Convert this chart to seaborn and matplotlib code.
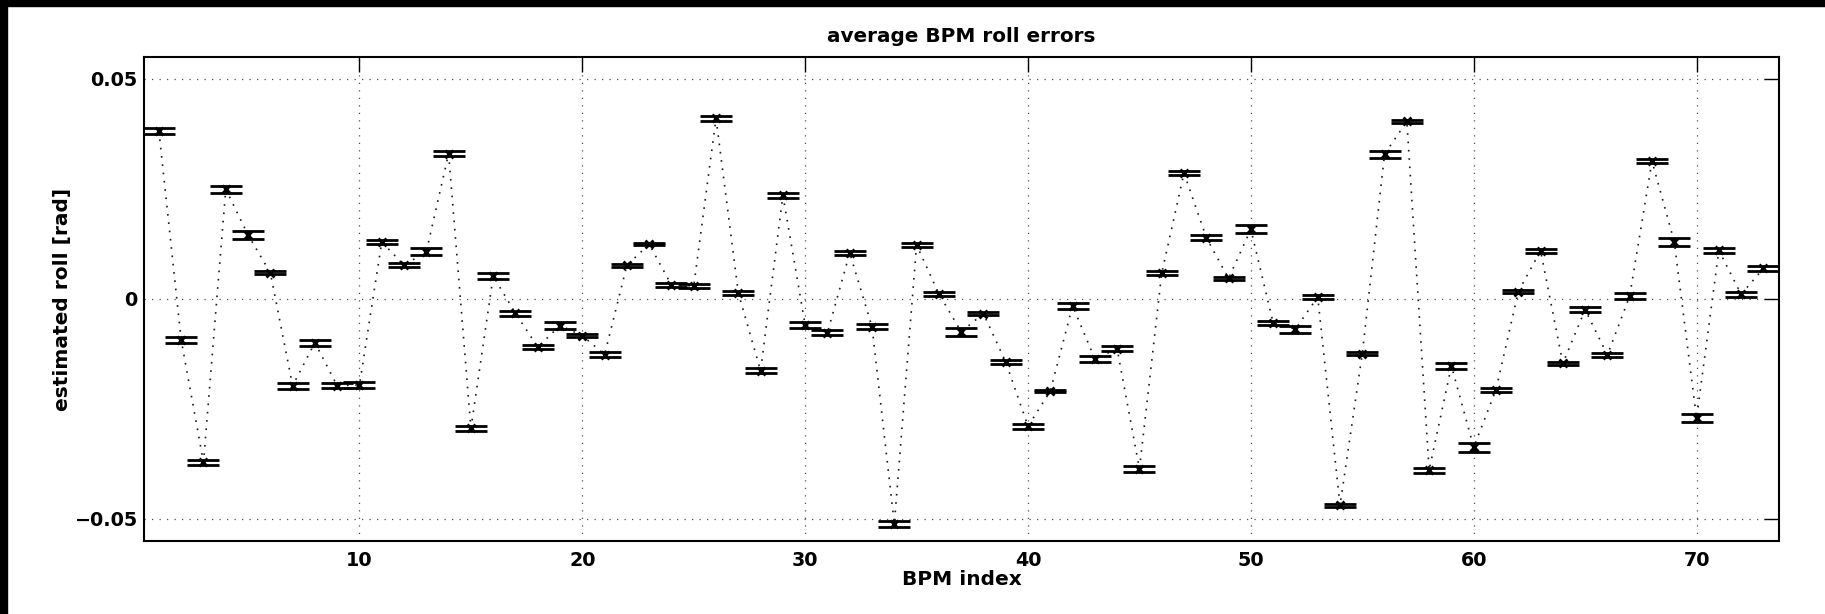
import numpy as np
import pandas as pd
import matplotlib
matplotlib.use("Agg")
import matplotlib.pyplot as plt
from matplotlib.patches import Rectangle
import seaborn as sns

# ---- data ----
bpm_index = list(range(1, 74))
roll_values = [
    0.0381, -0.0094, -0.0372, 0.0249, 0.0145, 0.0059, -0.0198, -0.0100, -0.0198, -0.0196,
    0.0129, 0.0076, 0.0107, 0.0330, -0.0295, 0.0051, -0.0033, -0.0110, -0.0061, -0.0084,
    -0.0127, 0.0076, 0.0124, 0.0031, 0.0029, 0.0410, 0.0013, -0.0164, 0.0235, -0.0060,
    -0.0077, 0.0104, -0.0064, -0.0512, 0.0122, 0.0011, -0.0075, -0.0034, -0.0144, -0.0290,
    -0.0210, -0.0016, -0.0137, -0.0114, -0.0387, 0.0058, 0.0286, 0.0139, 0.0046, 0.0158,
    -0.0055, -0.0069, 0.0004, -0.0470, -0.0125, 0.0329, 0.0403, -0.0390, -0.0153, -0.0338,
    -0.0207, 0.0016, 0.0109, -0.0147, -0.0025, -0.0128, 0.0006, 0.0313, 0.0129, -0.0272,
    0.0110, 0.0010, 0.0069,
]
roll_errors = [
    0.0007, 0.0007, 0.0006, 0.0008, 0.0010, 0.0003, 0.0007, 0.0007, 0.0006, 0.0006,
    0.0005, 0.0005, 0.0008, 0.0005, 0.0005, 0.0007, 0.0006, 0.0005, 0.0007, 0.0004,
    0.0005, 0.0004, 0.0003, 0.0005, 0.0005, 0.0006, 0.0005, 0.0006, 0.0006, 0.0006,
    0.0005, 0.0004, 0.0006, 0.0007, 0.0005, 0.0005, 0.0009, 0.0003, 0.0004, 0.0006,
    0.0003, 0.0007, 0.0007, 0.0006, 0.0007, 0.0004, 0.0005, 0.0005, 0.0003, 0.0009,
    0.0004, 0.0008, 0.0005, 0.0004, 0.0003, 0.0008, 0.0004, 0.0006, 0.0006, 0.0010,
    0.0005, 0.0003, 0.0004, 0.0003, 0.0006, 0.0004, 0.0006, 0.0005, 0.0010, 0.0009,
    0.0006, 0.0005, 0.0006,
]
x_ticks = [10, 20, 30, 40, 50, 60, 70]
y_ticks = [-0.05, 0, 0.05]
y_tick_labels = ["\u22120.05", "0", "0.05"]

title_text = "average BPM roll errors"
x_label = "BPM index"
y_label = "estimated roll [rad]"

df = pd.DataFrame({"bpm": bpm_index, "roll": roll_values, "err": roll_errors})

# ---- style ----
sns.set_theme(style="white")
plt.rcParams["font.family"] = ["DejaVu Sans"]
plt.rcParams["font.weight"] = "bold"

fig = plt.figure(figsize=(18.25, 6.14), dpi=100)
ax = fig.add_axes([0.0789, 0.1189, 0.8959, 0.7878])

# dotted connecting line
sns.lineplot(data=df, x="bpm", y="roll", ax=ax, color="0.1",
             linewidth=1.2, linestyle=(0, (1, 4)), zorder=2)

# error bars
ax.errorbar(df["bpm"], df["roll"], yerr=df["err"], fmt="x", color="black",
            ecolor="black", elinewidth=3.0, capsize=11.5, capthick=3.2,
            markersize=6, markeredgewidth=2.0, zorder=3)

ax.set_xlim(0.33, 73.7)
ax.set_ylim(-0.0551, 0.0549)
ax.set_xticks(x_ticks)
ax.set_yticks(y_ticks)
ax.set_yticklabels(y_tick_labels)

ax.grid(True, which="major", color="0.3", linestyle=(0, (1, 5)), linewidth=0.9)
ax.set_axisbelow(True)

for sp in ax.spines.values():
    sp.set_visible(True)
    sp.set_color("black")
    sp.set_linewidth(1.5)

ax.tick_params(axis="both", which="major", direction="in", length=11, width=1.0,
               color="black", top=True, right=True, labelsize=13.8,
               labelcolor="black")
ax.tick_params(axis="x", pad=7)
ax.tick_params(axis="y", pad=4.5)
for lbl in ax.get_xticklabels() + ax.get_yticklabels():
    lbl.set_fontweight("bold")

ax.set_title(title_text, fontsize=14.4, fontweight="bold", pad=11, color="black")
ax.set_xlabel(x_label, fontsize=14.5, fontweight="bold", labelpad=0.5, color="black")
ax.set_ylabel(y_label, fontsize=14.5, fontweight="bold", labelpad=2, color="black")

# black frame strips at left and top edge of the picture
fig.add_artist(Rectangle((0, 0), 7 / 1825, 1, transform=fig.transFigure,
                         color="black", zorder=10))
fig.add_artist(Rectangle((0, 1 - 6 / 614), 1, 6 / 614, transform=fig.transFigure,
                         color="black", zorder=10))

fig.savefig("out.png", dpi=100, facecolor="white")
